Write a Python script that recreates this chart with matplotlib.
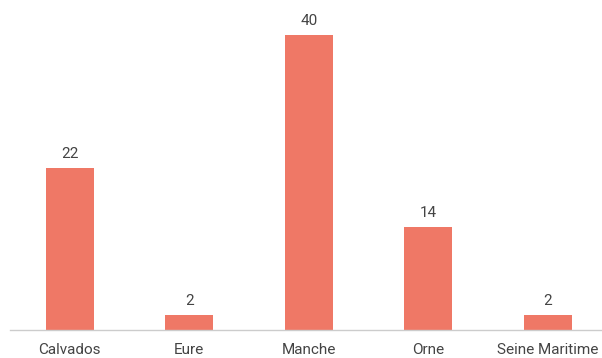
import matplotlib
matplotlib.use("Agg")
import matplotlib.pyplot as plt

categories = ["Calvados", "Eure", "Manche", "Orne", "Seine Maritime"]
values = [22, 2, 40, 14, 2]

plt.rcParams['font.family'] = ['Roboto', 'DejaVu Sans']
fig = plt.figure(figsize=(6.02, 3.58), dpi=100)
ax = fig.add_axes([10/602, 28/358, 592/602, 330/358])
bar_color = "#EF7866"
text_color = "#444444"
x = list(range(len(categories)))
ax.bar(x, values, width=0.4, color=bar_color)
for xi, v in zip(x, values):
    ax.annotate(str(v), (xi, v), xytext=(0, 5), textcoords="offset points",
                ha="center", va="bottom", fontsize=11, color=text_color)
ax.set_xlim(-0.5, 592/119.5 - 0.5)
ax.set_ylim(0, 330/7.375)
ax.set_xticks(x)
ax.set_xticklabels(categories, fontsize=11, color=text_color)
ax.tick_params(axis='x', length=0, pad=9)
ax.set_yticks([])
for s in ["top", "right", "left"]:
    ax.spines[s].set_visible(False)
ax.spines["bottom"].set_color("#cccccc")
ax.spines["bottom"].set_linewidth(1)
fig.savefig("out.png", dpi=100)
